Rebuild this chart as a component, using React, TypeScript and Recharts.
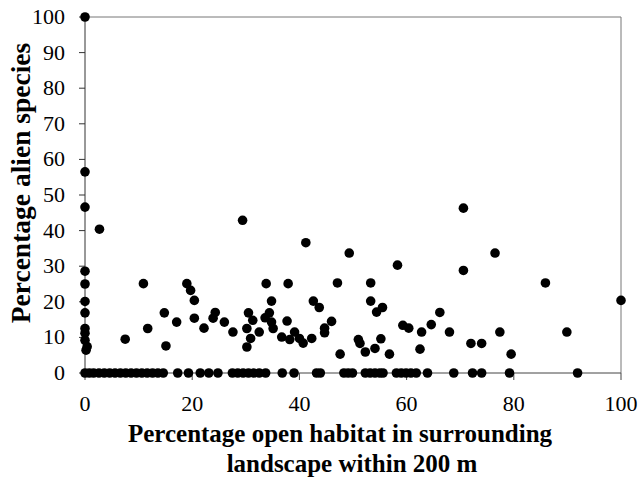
import {
  ScatterChart,
  Scatter,
  XAxis,
  YAxis,
  ReferenceLine,
} from 'recharts'

// sites with no alien species (y = 0)
const zeroX = [
  0, 0.8, 1.6, 2.6, 3.6, 4.6, 5.6, 6.6, 7.6, 8.6, 9.6, 10.6, 11.6, 12.6, 13.6, 14.6,
  17.3, 19.3, 21.5, 23.1, 24.8,
  27.5, 28.5, 29.5, 30.5, 31.5, 32.5, 33.7,
  36.8, 39.0, 43.2, 43.9, 48.3, 49.1, 49.9,
  52.3, 53.2, 54.1, 55.0, 55.6,
  58.1, 59.0, 59.9, 60.8, 61.8,
  63.9, 68.8, 72.3, 74.0, 79.2, 91.9,
]

// sites with alien species: open habitat % and alien %
const openHabitat = [
  0, 0, 0, 0, 0, 0, 0, 0, 0, 0, 0.4, 0.2,
  2.7, 7.5, 10.9, 11.7, 14.8, 15.1, 17.1, 19.0, 19.7, 20.4, 20.4, 22.2,
  24.3, 23.9, 26.0, 27.6, 29.4, 30.5, 31.3, 30.2, 30.9, 30.2, 32.5,
  33.8, 37.9, 34.8, 34.4, 33.6, 34.8, 35.1, 37.7, 36.7, 38.2, 39.1, 40.0, 40.7,
  41.2, 42.6, 43.7, 42.3, 44.7, 44.7, 46.0, 47.1, 47.6, 49.3,
  51.0, 51.3, 52.3, 53.3, 53.3, 54.4, 55.5, 54.1, 55.2, 56.8,
  58.3, 59.3, 60.4, 62.5, 62.8, 64.6, 66.2, 68.0,
  70.6, 70.6, 72.0, 74.0, 76.5, 77.4, 79.5, 85.9, 89.9, 100,
]
const alienSpecies = [
  100, 56.5, 46.6, 28.6, 25.0, 20.1, 16.9, 12.5, 11.2, 9.2, 7.4, 6.4,
  40.4, 9.5, 25.1, 12.5, 16.9, 7.6, 14.3, 25.1, 23.2, 20.4, 15.4, 12.6,
  17.0, 15.4, 14.3, 11.5, 42.9, 16.9, 14.8, 12.5, 9.7, 7.3, 11.5,
  25.1, 25.1, 20.2, 16.9, 15.5, 14.3, 12.5, 14.6, 10.1, 9.4, 11.5, 9.7, 8.4,
  36.6, 20.2, 18.4, 9.7, 12.6, 11.3, 14.5, 25.3, 5.3, 33.7,
  9.4, 8.3, 5.9, 25.3, 20.2, 17.1, 18.4, 6.9, 9.6, 5.3,
  30.3, 13.4, 12.6, 6.7, 11.5, 13.6, 17.0, 11.5,
  46.3, 28.8, 8.3, 8.3, 33.7, 11.5, 5.3, 25.3, 11.5, 20.4,
]

const xTicks = [0, 20, 40, 60, 80, 100]
const yTicks = [0, 10, 20, 30, 40, 50, 60, 70, 80, 90, 100]

const points = [
  ...zeroX.map((x) => ({ x, y: 0 })),
  ...openHabitat.map((x, i) => ({ x, y: alienSpecies[i] })),
]

const SERIF = "'Liberation Serif', 'Times New Roman', serif"

function Dot(props: any) {
  return <circle cx={props.cx} cy={props.cy} r={4.8} fill="#000" />
}

function XTick({ x, y, payload }: any) {
  return (
    <text x={x} y={y + 16} style={{ fontFamily: SERIF, fontSize: 22 }} fill="#000" textAnchor="middle">
      {payload.value}
    </text>
  )
}

function YTick({ x, y, payload }: any) {
  return (
    <text x={x} y={y + 7} style={{ fontFamily: SERIF, fontSize: 22 }} fill="#000" textAnchor="end">
      {payload.value}
    </text>
  )
}

function XTitle({ viewBox }: any) {
  const cx = viewBox.x + viewBox.width / 2
  return (
    <text style={{ fontFamily: SERIF, fontSize: 25, fontWeight: 'bold' }} fill="#000" textAnchor="middle">
      <tspan x={cx - 13} y={viewBox.y + 69}>Percentage open habitat in surrounding</tspan>
      <tspan x={cx - 1} y={viewBox.y + 99}>landscape within 200 m</tspan>
    </text>
  )
}

function YTitle({ viewBox }: any) {
  const cy = viewBox.y + viewBox.height / 2 - 12
  const x = 30
  return (
    <text
      x={x}
      y={cy}
      transform={`rotate(-90, ${x}, ${cy})`}
      style={{ fontFamily: SERIF, fontSize: 27.5, fontWeight: 'bold' }}
      fill="#000"
      textAnchor="middle"
    >
      Percentage alien species
    </text>
  )
}

export default function App() {
  return (
    <div
      style={{
        position: 'absolute',
        left: 0,
        top: 0,
        width: 638,
        height: 479,
        background: '#fff',
        fontFamily: SERIF,
      }}
    >
      <ScatterChart width={638} height={479} margin={{ top: 17, right: 17, bottom: 0, left: 0 }}>
        <XAxis
          type="number"
          dataKey="x"
          domain={[0, 100]}
          ticks={xTicks}
          height={106}
          tickSize={7}
          tickMargin={15}
          tick={<XTick />}
          axisLine={{ stroke: '#444' }}
          tickLine={{ stroke: '#444' }}
          label={<XTitle />}
        />
        <YAxis
          type="number"
          dataKey="y"
          domain={[0, 100]}
          ticks={yTicks}
          width={85}
          tickSize={6}
          tickMargin={14}
          tick={<YTick />}
          axisLine={{ stroke: '#333' }}
          tickLine={{ stroke: '#333' }}
          label={<YTitle />}
        />
        <ReferenceLine y={100} stroke="#777" />
        <ReferenceLine x={100} stroke="#777" />
        <Scatter data={points} shape={<Dot />} isAnimationActive={false} />
      </ScatterChart>
    </div>
  )
}
